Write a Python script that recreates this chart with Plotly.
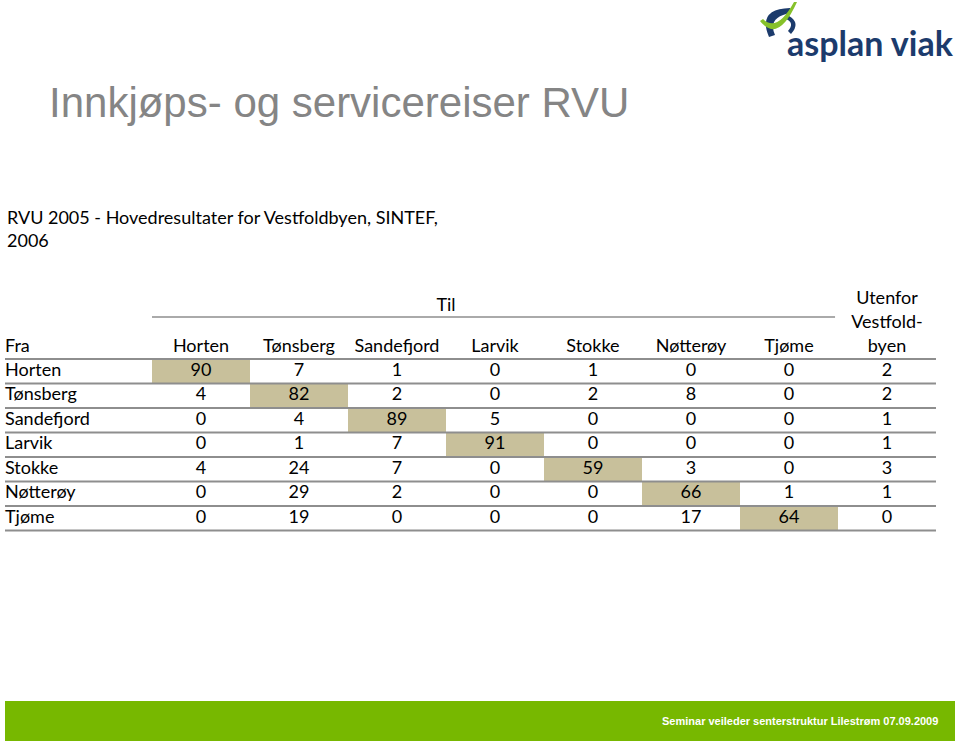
import plotly.graph_objects as go

# --- data ---
origins = ["Horten", "Tønsberg", "Sandefjord", "Larvik", "Stokke", "Nøtterøy", "Tjøme"]
destinations = ["Horten", "Tønsberg", "Sandefjord", "Larvik", "Stokke", "Nøtterøy", "Tjøme"]
outside_header = ["Utenfor", "Vestfold-", "byen"]

horten = [90, 7, 1, 0, 1, 0, 0, 2]
tonsberg = [4, 82, 2, 0, 2, 8, 0, 2]
sandefjord = [0, 4, 89, 5, 0, 0, 0, 1]
larvik = [0, 1, 7, 91, 0, 0, 0, 1]
stokke = [4, 24, 7, 0, 59, 3, 0, 3]
notteroy = [0, 29, 2, 0, 0, 66, 1, 1]
tjome = [0, 19, 0, 0, 0, 17, 64, 0]
table = [horten, tonsberg, sandefjord, larvik, stokke, notteroy, tjome]

title = "Innkjøps- og servicereiser RVU"
source = "RVU 2005 - Hovedresultater for Vestfoldbyen, SINTEF,<br>2006"
footer = "Seminar veileder senterstruktur Lilestrøm 07.09.2009"

FONT = "Lato, 'Open Sans', sans-serif"
CELL = "#c8c09b"
RULE = "#8e8e8e"
GREEN = "#77b800"
NAVY = "#1c3b6c"

n_rows = len(origins)
n_cols = len(table[0])

fig = go.Figure()

# highlighted diagonal cells (same origin and destination)
z = [[(table[r][c] if destinations[c:c + 1] == [origins[r]] else None) for c in range(n_cols)]
     for r in range(n_rows)]
fig.add_trace(go.Heatmap(z=z, x=list(range(n_cols)), y=list(range(n_rows)),
                         colorscale=[[0, CELL], [1, CELL]], showscale=False,
                         hoverinfo="skip"))

# cell values
xs, ys, ts = [], [], []
for r in range(n_rows):
    for c in range(n_cols):
        xs.append(c)
        ys.append(r)
        ts.append(str(table[r][c]))
fig.add_trace(go.Scatter(x=xs, y=ys, text=ts, mode="text", textposition="middle center",
                         textfont=dict(family=FONT, size=18, color="black"), hoverinfo="skip"))

# row labels
fig.add_trace(go.Scatter(x=[-2] * n_rows, y=list(range(n_rows)), text=origins, mode="text",
                         textposition="middle right",
                         textfont=dict(family=FONT, size=18, color="black"), hoverinfo="skip"))

# header row
head_y = -0.95
fig.add_trace(go.Scatter(x=list(range(len(destinations))), y=[head_y] * len(destinations),
                         text=destinations, mode="text", textposition="middle center",
                         textfont=dict(family=FONT, size=18, color="black"), hoverinfo="skip"))
fig.add_trace(go.Scatter(x=[n_cols - 1] * 3, y=[head_y - 1.96, head_y - 0.98, head_y],
                         text=outside_header, mode="text", textposition="middle center",
                         textfont=dict(family=FONT, size=18, color="black"), hoverinfo="skip"))
fig.add_trace(go.Scatter(x=[-2, 2.5], y=[head_y, -2.66], text=["Fra", "Til"], mode="text",
                         textposition=["middle right", "middle center"],
                         textfont=dict(family=FONT, size=18, color="black"), hoverinfo="skip"))

# table rules
for r in range(-1, n_rows):
    fig.add_shape(type="line", x0=-2.0, x1=n_cols - 0.5, y0=r + 0.5, y1=r + 0.5,
                  line=dict(color=RULE, width=2), layer="above")
fig.add_shape(type="line", x0=-0.5, x1=6.47, y0=-2.21, y1=-2.21,
              line=dict(color=RULE, width=1.5), layer="above")

# decoration layer in page pixels
fig.add_trace(go.Scatter(x=[None], y=[None], xaxis="x2", yaxis="y2", showlegend=False))

# footer band
fig.add_shape(type="rect", xref="x2", yref="y2", x0=5, x1=955, y0=701, y1=741,
              fillcolor=GREEN, line_width=0, layer="below")

# logo swoosh
fig.add_shape(type="path", xref="x2", yref="y2",
              path="M 790 8 Q 757 9 769 37 L 775 35 Q 767 17 791 13 Z",
              fillcolor=NAVY, line_width=0)
fig.add_shape(type="path", xref="x2", yref="y2",
              path="M 789 16 Q 801 23 791 34 L 788 31 Q 795 23 786 19 Z",
              fillcolor=NAVY, line_width=0)
fig.add_shape(type="path", xref="x2", yref="y2",
              path="M 760 21 Q 778 44 797 2 L 794 2 Q 777 33 763 19 Z",
              fillcolor="#86c12a", line_width=0)

annotations = [
    dict(x=47, y=102, text=title, xanchor="left", yanchor="middle",
         font=dict(family="'Liberation Sans', Arial, sans-serif", size=42, color="#858585")),
    dict(x=5, y=228, text=source, xanchor="left", yanchor="middle", align="left",
         font=dict(family=FONT, size=18, color="black")),
    dict(x=940, y=721, text="<b>" + footer + "</b>", xanchor="right", yanchor="middle",
         font=dict(family="'Liberation Sans', Arial, sans-serif", size=11, color="white")),
    dict(x=785, y=42, text="<b>asplan viak</b>", xanchor="left", yanchor="middle",
         font=dict(family=FONT, size=34, color=NAVY)),
]
for a in annotations:
    a.update(xref="x2", yref="y2", showarrow=False)

fig.update_layout(
    width=960, height=741,
    margin=dict(l=0, r=0, t=0, b=0),
    paper_bgcolor="white", plot_bgcolor="white",
    showlegend=False,
    xaxis=dict(range=[-2.051, 7.745], visible=False, fixedrange=True),
    yaxis=dict(range=[15.092, -15.153], visible=False, fixedrange=True),
    xaxis2=dict(range=[0, 960], visible=False, overlaying="x", fixedrange=True),
    yaxis2=dict(range=[741, 0], visible=False, overlaying="y", fixedrange=True),
    annotations=annotations,
)

fig.write_html("out.html", config={"displayModeBar": False},
               post_script="document.body.style.margin='0';document.body.style.overflow='hidden';")
